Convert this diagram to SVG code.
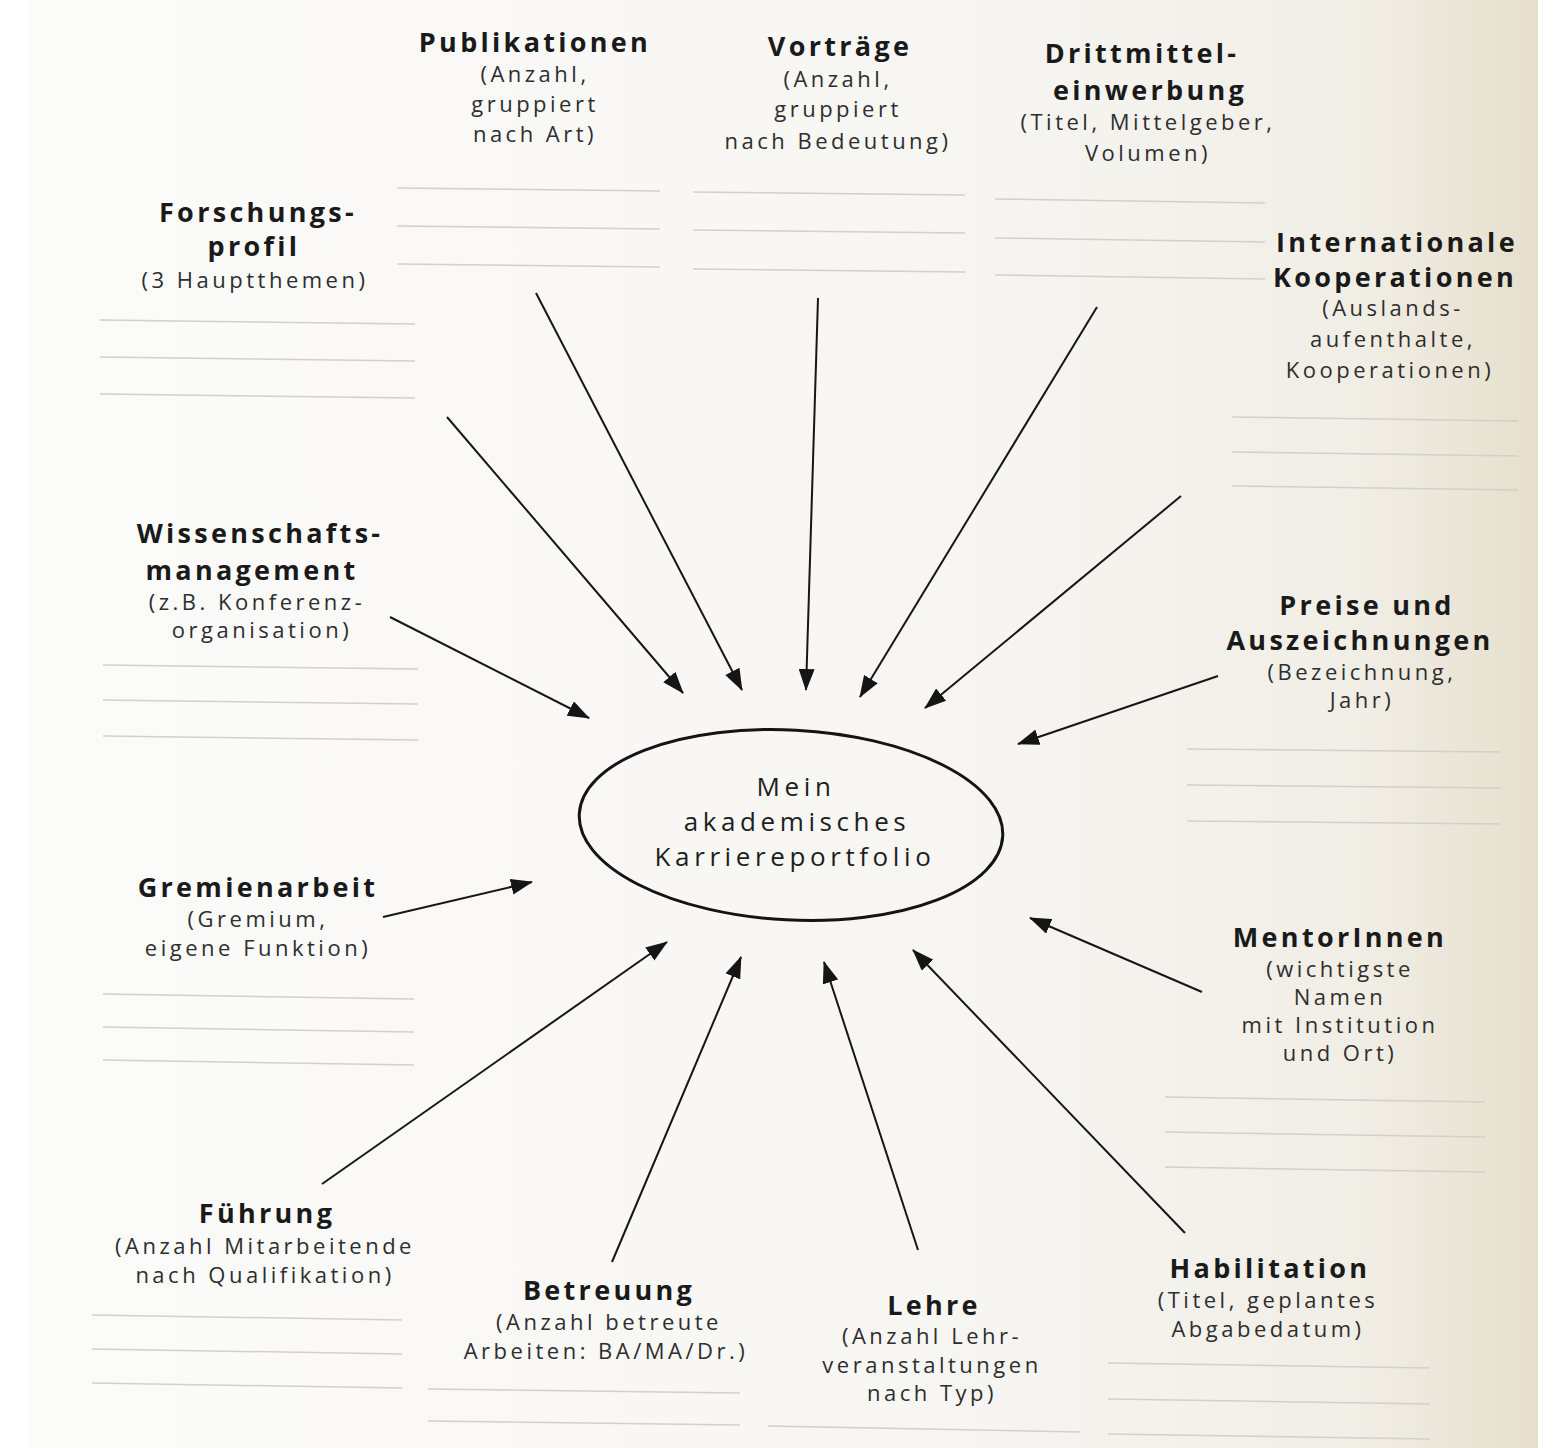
<svg xmlns="http://www.w3.org/2000/svg" width="1563" height="1448" viewBox="0 0 1563 1448">
<defs>
<linearGradient id="page" x1="0" y1="0" x2="1" y2="0">
<stop offset="0" stop-color="#fbfbfa"/>
<stop offset="0.6" stop-color="#f7f6f3"/>
<stop offset="0.88" stop-color="#f1eee6"/>
<stop offset="1" stop-color="#e6dfcc"/>
</linearGradient>
<marker id="ah" viewBox="0 0 22 16" refX="21" refY="8" markerWidth="22" markerHeight="16" markerUnits="userSpaceOnUse" orient="auto">
<path d="M0,0 L22,8 L0,16 Z" fill="#151515"/>
</marker>
<style>
.t{font-family:"Open Sans","Noto Sans","Liberation Sans",sans-serif;font-weight:700;font-size:27px;fill:#1a1a1a;text-anchor:middle;letter-spacing:3.3px}
.s{font-family:"Open Sans","Noto Sans","Liberation Sans",sans-serif;font-weight:400;font-size:22px;fill:#2e2e2e;text-anchor:middle;letter-spacing:3.5px}
.c{font-family:"Open Sans","Noto Sans","Liberation Sans",sans-serif;font-weight:400;font-size:26px;fill:#1e1e1e;text-anchor:middle;letter-spacing:4.6px}
.w{stroke:#d2d0cb;stroke-width:1.5;fill:none}
.a{stroke:#161616;stroke-width:2;fill:none;marker-end:url(#ah)}
</style>
</defs>
<rect x="0" y="0" width="1563" height="1448" fill="#ffffff"/>
<rect x="28" y="0" width="1510" height="1448" fill="url(#page)"/>

<g id="writing-lines">
<path class="w" d="M397,188 L660,191 M397,226 L660,229 M397,264 L660,267"/>
<path class="w" d="M693,192 L965,195 M693,230 L965,233 M693,269 L965,272"/>
<path class="w" d="M995,199 L1265,203 M995,238 L1265,242 M995,275 L1265,279"/>
<path class="w" d="M100,320 L415,324 M100,357 L415,361 M100,394 L415,398"/>
<path class="w" d="M1232,417 L1518,421 M1232,452 L1518,456 M1232,486 L1518,490"/>
<path class="w" d="M103,665 L418,669 M103,700 L418,704 M103,736 L418,740"/>
<path class="w" d="M1187,749 L1500,752 M1187,785 L1500,788 M1187,821 L1500,824"/>
<path class="w" d="M103,994 L414,999 M103,1027 L414,1032 M103,1060 L414,1065"/>
<path class="w" d="M1165,1097 L1485,1102 M1165,1132 L1485,1137 M1165,1167 L1485,1172"/>
<path class="w" d="M92,1315 L402,1320 M92,1349 L402,1354 M92,1383 L402,1388"/>
<path class="w" d="M428,1389 L740,1393 M428,1421 L740,1425"/>
<path class="w" d="M768,1426 L1080,1432"/>
<path class="w" d="M1108,1363 L1430,1368 M1108,1399 L1430,1404 M1108,1434 L1430,1439"/>
</g>

<g id="connectors">
<line class="a" x1="447" y1="417" x2="683" y2="693"/>
<line class="a" x1="536" y1="293" x2="742" y2="690"/>
<line class="a" x1="818" y1="298" x2="806" y2="690"/>
<line class="a" x1="1097" y1="307" x2="860" y2="697"/>
<line class="a" x1="1181" y1="496" x2="925" y2="708"/>
<line class="a" x1="390" y1="617" x2="589" y2="718"/>
<line class="a" x1="1218" y1="676" x2="1018" y2="744"/>
<line class="a" x1="383" y1="917" x2="532" y2="882"/>
<line class="a" x1="1202" y1="992" x2="1030" y2="918"/>
<line class="a" x1="322" y1="1184" x2="667" y2="942"/>
<line class="a" x1="612" y1="1262" x2="741" y2="957"/>
<line class="a" x1="918" y1="1250" x2="824" y2="962"/>
<line class="a" x1="1185" y1="1233" x2="913" y2="950"/>
</g>

<g id="center">
<ellipse cx="791" cy="825" rx="212" ry="95" fill="none" stroke="#141414" stroke-width="3" transform="rotate(3 791 825)"/>
<text class="c" x="796" y="796">Mein</text>
<text class="c" x="797" y="831">akademisches</text>
<text class="c" x="795" y="866">Karriereportfolio</text>
</g>

<g id="publikationen">
<text class="t" x="535" y="52">Publikationen</text>
<text class="s" x="535" y="82">(Anzahl,</text>
<text class="s" x="535" y="112">gruppiert</text>
<text class="s" x="535" y="142">nach Art)</text>
</g>
<g id="vortraege">
<text class="t" x="840" y="56">Vorträge</text>
<text class="s" x="838" y="87">(Anzahl,</text>
<text class="s" x="838" y="117">gruppiert</text>
<text class="s" x="838" y="149">nach Bedeutung)</text>
</g>
<g id="drittmittel">
<text class="t" x="1142" y="63">Drittmittel-</text>
<text class="t" x="1150" y="100">einwerbung</text>
<text class="s" x="1148" y="130">(Titel, Mittelgeber,</text>
<text class="s" x="1148" y="161">Volumen)</text>
</g>
<g id="forschungsprofil">
<text class="t" x="258" y="222">Forschungs-</text>
<text class="t" x="254" y="256">profil</text>
<text class="s" x="255" y="288">(3 Hauptthemen)</text>
</g>
<g id="international">
<text class="t" x="1397" y="252">Internationale</text>
<text class="t" x="1395" y="287">Kooperationen</text>
<text class="s" x="1393" y="316">(Auslands-</text>
<text class="s" x="1393" y="347">aufenthalte,</text>
<text class="s" x="1390" y="378">Kooperationen)</text>
</g>
<g id="wissenschaftsmanagement">
<text class="t" x="260" y="543">Wissenschafts-</text>
<text class="t" x="252" y="580">management</text>
<text class="s" x="257" y="610">(z.B. Konferenz-</text>
<text class="s" x="262" y="638">organisation)</text>
</g>
<g id="preise">
<text class="t" x="1367" y="615">Preise und</text>
<text class="t" x="1360" y="650">Auszeichnungen</text>
<text class="s" x="1362" y="680">(Bezeichnung,</text>
<text class="s" x="1362" y="708">Jahr)</text>
</g>
<g id="gremienarbeit">
<text class="t" x="258" y="897">Gremienarbeit</text>
<text class="s" x="258" y="927">(Gremium,</text>
<text class="s" x="258" y="956">eigene Funktion)</text>
</g>
<g id="mentorinnen">
<text class="t" x="1340" y="947">MentorInnen</text>
<text class="s" x="1340" y="977">(wichtigste</text>
<text class="s" x="1340" y="1005">Namen</text>
<text class="s" x="1340" y="1033">mit Institution</text>
<text class="s" x="1340" y="1061">und Ort)</text>
</g>
<g id="fuehrung">
<text class="t" x="267" y="1223">Führung</text>
<text class="s" x="265" y="1254">(Anzahl Mitarbeitende</text>
<text class="s" x="265" y="1283">nach Qualifikation)</text>
</g>
<g id="betreuung">
<text class="t" x="609" y="1300">Betreuung</text>
<text class="s" x="609" y="1330">(Anzahl betreute</text>
<text class="s" x="606" y="1359">Arbeiten: BA/MA/Dr.)</text>
</g>
<g id="lehre">
<text class="t" x="934" y="1315">Lehre</text>
<text class="s" x="932" y="1344">(Anzahl Lehr-</text>
<text class="s" x="932" y="1373">veranstaltungen</text>
<text class="s" x="932" y="1401">nach Typ)</text>
</g>
<g id="habilitation">
<text class="t" x="1270" y="1278">Habilitation</text>
<text class="s" x="1268" y="1308">(Titel, geplantes</text>
<text class="s" x="1268" y="1337">Abgabedatum)</text>
</g>
</svg>
